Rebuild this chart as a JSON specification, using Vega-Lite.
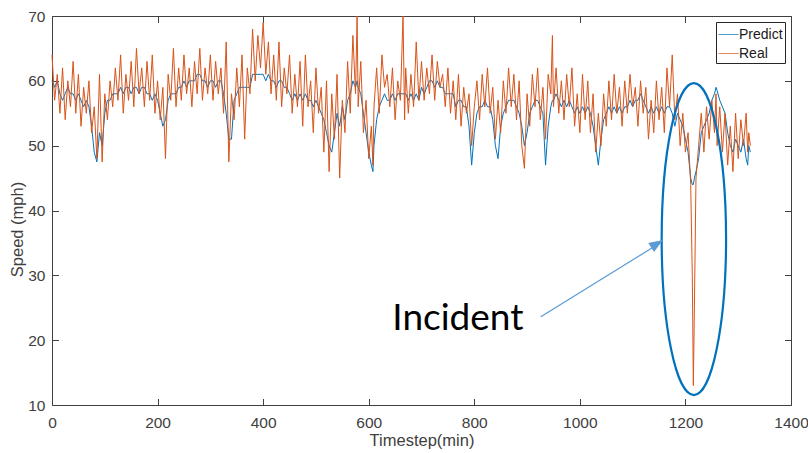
{
  "$schema": "https://vega.github.io/schema/vega-lite/v6.json",
  "width": 739,
  "height": 389,
  "autosize": {"type": "none"},
  "padding": {"left": 52, "top": 16, "right": 17, "bottom": 48},
  "background": "white",
  "config": {
    "view": {"stroke": null},
    "font": "Liberation Sans",
    "axis": {
      "domainColor": "#404040", "tickColor": "#404040", "labelColor": "#404040", "titleColor": "#404040",
      "labelFont": "Liberation Sans", "titleFont": "Liberation Sans",
      "labelFontSize": 15.5, "titleFontSize": 16.5, "titleFontWeight": "normal",
      "tickSize": -6.5, "grid": false, "domainWidth": 1, "tickWidth": 1, "format": "d"
    },
    "legend": {
      "orient": "top-right", "offset": 6, "title": null,
      "symbolType": "stroke", "symbolSize": 400, "symbolStrokeWidth": 1, "symbolOpacity": 0.7,
      "labelFont": "Liberation Sans", "labelFontSize": 14, "labelColor": "#1a1a1a", "labelOffset": 0,
      "strokeColor": "#262626", "fillColor": "white", "padding": 2, "rowPadding": 1, "cornerRadius": 0
    }
  },
  "layer": [
    {
      "data": {"values": [
        {"t":0,"Predict":60,"Real":64},{"t":5,"Predict":59,"Real":57},{"t":10,"Predict":60,"Real":61},{"t":15,"Predict":58,"Real":55},
        {"t":20,"Predict":57,"Real":62},{"t":25,"Predict":58,"Real":54},{"t":30,"Predict":59,"Real":60},{"t":35,"Predict":58,"Real":56},
        {"t":40,"Predict":58,"Real":63},{"t":45,"Predict":57,"Real":55},{"t":50,"Predict":58,"Real":61},{"t":55,"Predict":57,"Real":53},
        {"t":60,"Predict":56,"Real":59},{"t":65,"Predict":57,"Real":55},{"t":70,"Predict":56,"Real":60},{"t":75,"Predict":53,"Real":52},
        {"t":80,"Predict":49,"Real":56},{"t":85,"Predict":47.5,"Real":48},{"t":90,"Predict":52,"Real":61},{"t":95,"Predict":50,"Real":47.5},
        {"t":100,"Predict":55,"Real":58},{"t":105,"Predict":57,"Real":54},{"t":110,"Predict":57,"Real":60},{"t":115,"Predict":58,"Real":56},
        {"t":120,"Predict":58,"Real":62},{"t":125,"Predict":58,"Real":57},{"t":130,"Predict":59,"Real":64},{"t":135,"Predict":58,"Real":55},
        {"t":140,"Predict":59,"Real":61},{"t":145,"Predict":59,"Real":57},{"t":150,"Predict":58,"Real":63},{"t":155,"Predict":59,"Real":56},
        {"t":160,"Predict":59,"Real":65},{"t":165,"Predict":58,"Real":58},{"t":170,"Predict":59,"Real":62},{"t":175,"Predict":59,"Real":56},
        {"t":180,"Predict":58,"Real":63},{"t":185,"Predict":58,"Real":57},{"t":190,"Predict":57,"Real":64},{"t":195,"Predict":58,"Real":55},
        {"t":200,"Predict":57,"Real":60},{"t":205,"Predict":55,"Real":54},{"t":210,"Predict":53,"Real":59},{"t":215,"Predict":54,"Real":48},
        {"t":220,"Predict":57,"Real":61},{"t":225,"Predict":58,"Real":57},{"t":230,"Predict":58,"Real":65},{"t":235,"Predict":58,"Real":56},
        {"t":240,"Predict":59,"Real":62},{"t":245,"Predict":59,"Real":57},{"t":250,"Predict":60,"Real":64},{"t":255,"Predict":59,"Real":58},
        {"t":260,"Predict":60,"Real":62},{"t":265,"Predict":60,"Real":56},{"t":270,"Predict":60,"Real":63},{"t":275,"Predict":61,"Real":58},
        {"t":280,"Predict":61,"Real":65},{"t":285,"Predict":60,"Real":57},{"t":290,"Predict":60,"Real":62},{"t":295,"Predict":59,"Real":58},
        {"t":300,"Predict":60,"Real":64},{"t":305,"Predict":60,"Real":57},{"t":310,"Predict":59,"Real":63},{"t":315,"Predict":60,"Real":58},
        {"t":320,"Predict":60,"Real":62},{"t":325,"Predict":58,"Real":55},{"t":330,"Predict":55,"Real":66},{"t":335,"Predict":51,"Real":47.5},
        {"t":340,"Predict":51,"Real":58},{"t":345,"Predict":57,"Real":54},{"t":350,"Predict":58,"Real":62},{"t":355,"Predict":59,"Real":56},
        {"t":360,"Predict":59,"Real":64},{"t":365,"Predict":59,"Real":51},{"t":370,"Predict":59,"Real":62},{"t":375,"Predict":59,"Real":58},
        {"t":380,"Predict":61,"Real":68},{"t":385,"Predict":61,"Real":60},{"t":390,"Predict":61,"Real":67},{"t":395,"Predict":61,"Real":62},
        {"t":400,"Predict":61,"Real":69},{"t":405,"Predict":60,"Real":61},{"t":410,"Predict":61,"Real":66},{"t":415,"Predict":60,"Real":58},
        {"t":420,"Predict":60,"Real":64},{"t":425,"Predict":59,"Real":57},{"t":430,"Predict":60,"Real":66},{"t":435,"Predict":60,"Real":56},
        {"t":440,"Predict":59,"Real":62},{"t":445,"Predict":59,"Real":58},{"t":450,"Predict":58,"Real":64},{"t":455,"Predict":57,"Real":55},
        {"t":460,"Predict":58,"Real":61},{"t":465,"Predict":57,"Real":56},{"t":470,"Predict":58,"Real":63},{"t":475,"Predict":57,"Real":53},
        {"t":480,"Predict":58,"Real":64},{"t":485,"Predict":57,"Real":56},{"t":490,"Predict":57,"Real":60},{"t":495,"Predict":56,"Real":52},
        {"t":500,"Predict":57,"Real":62},{"t":505,"Predict":56,"Real":55},{"t":510,"Predict":55,"Real":59},{"t":515,"Predict":54,"Real":49},
        {"t":520,"Predict":52,"Real":60},{"t":525,"Predict":50,"Real":46},{"t":530,"Predict":49,"Real":58},{"t":535,"Predict":52,"Real":51},
        {"t":540,"Predict":55,"Real":61},{"t":545,"Predict":53,"Real":45},{"t":550,"Predict":56,"Real":57},{"t":555,"Predict":54,"Real":52},
        {"t":560,"Predict":57,"Real":63},{"t":565,"Predict":58,"Real":55},{"t":570,"Predict":60,"Real":67},{"t":575,"Predict":59,"Real":58},
        {"t":578,"Predict":60,"Real":70},{"t":580,"Predict":59,"Real":56},{"t":585,"Predict":58,"Real":63},{"t":590,"Predict":55,"Real":52},
        {"t":595,"Predict":52,"Real":57},{"t":600,"Predict":49,"Real":48},{"t":605,"Predict":47,"Real":53},{"t":608,"Predict":46,"Real":47},
        {"t":610,"Predict":50,"Real":56},{"t":615,"Predict":54,"Real":62},{"t":620,"Predict":56,"Real":55},{"t":625,"Predict":57,"Real":64},
        {"t":630,"Predict":58,"Real":59},{"t":635,"Predict":57,"Real":61},{"t":640,"Predict":57,"Real":56},{"t":645,"Predict":58,"Real":62},
        {"t":650,"Predict":57,"Real":54},{"t":655,"Predict":58,"Real":60},{"t":660,"Predict":58,"Real":57},{"t":665,"Predict":58,"Real":70},
        {"t":668,"Predict":58,"Real":54},{"t":670,"Predict":58,"Real":62},{"t":675,"Predict":57,"Real":55},{"t":680,"Predict":58,"Real":61},
        {"t":685,"Predict":57,"Real":56},{"t":690,"Predict":58,"Real":66},{"t":695,"Predict":57,"Real":57},{"t":700,"Predict":59,"Real":63},
        {"t":705,"Predict":58,"Real":57},{"t":710,"Predict":59,"Real":62},{"t":715,"Predict":60,"Real":58},{"t":720,"Predict":60,"Real":64},
        {"t":725,"Predict":59,"Real":57},{"t":730,"Predict":60,"Real":63},{"t":735,"Predict":59,"Real":59},{"t":740,"Predict":59,"Real":61},
        {"t":745,"Predict":58,"Real":56},{"t":750,"Predict":58,"Real":62},{"t":755,"Predict":58,"Real":55},{"t":760,"Predict":58,"Real":60},
        {"t":765,"Predict":56,"Real":54},{"t":770,"Predict":57,"Real":61},{"t":775,"Predict":57,"Real":53},{"t":780,"Predict":56,"Real":59},
        {"t":785,"Predict":56,"Real":55},{"t":790,"Predict":53,"Real":58},{"t":795,"Predict":47,"Real":50},{"t":800,"Predict":52,"Real":56},
        {"t":805,"Predict":55,"Real":60},{"t":810,"Predict":56,"Real":54},{"t":815,"Predict":56,"Real":61},{"t":820,"Predict":57,"Real":56},
        {"t":825,"Predict":56,"Real":62},{"t":830,"Predict":56,"Real":55},{"t":835,"Predict":54,"Real":59},{"t":840,"Predict":50,"Real":51},
        {"t":845,"Predict":48,"Real":57},{"t":850,"Predict":53,"Real":52},{"t":855,"Predict":55,"Real":60},{"t":860,"Predict":56,"Real":55},
        {"t":865,"Predict":57,"Real":62},{"t":870,"Predict":57,"Real":56},{"t":875,"Predict":57,"Real":61},{"t":880,"Predict":56,"Real":54},
        {"t":885,"Predict":55,"Real":60},{"t":890,"Predict":53,"Real":50},{"t":895,"Predict":50,"Real":46.5},{"t":900,"Predict":52,"Real":58},
        {"t":905,"Predict":55,"Real":53},{"t":910,"Predict":56,"Real":61},{"t":915,"Predict":57,"Real":56},{"t":920,"Predict":57,"Real":62},
        {"t":925,"Predict":56,"Real":54},{"t":930,"Predict":55,"Real":59},{"t":935,"Predict":47,"Real":51},{"t":940,"Predict":53,"Real":61},
        {"t":945,"Predict":56,"Real":58},{"t":948,"Predict":57,"Real":67},{"t":950,"Predict":57,"Real":56},{"t":955,"Predict":58,"Real":62},
        {"t":960,"Predict":57,"Real":55},{"t":965,"Predict":56,"Real":60},{"t":970,"Predict":57,"Real":54},{"t":975,"Predict":56,"Real":61},
        {"t":980,"Predict":57,"Real":56},{"t":985,"Predict":56,"Real":62},{"t":990,"Predict":55,"Real":53},{"t":995,"Predict":56,"Real":58},
        {"t":1000,"Predict":55,"Real":52},{"t":1005,"Predict":56,"Real":61},{"t":1010,"Predict":55,"Real":54},{"t":1015,"Predict":56,"Real":60},
        {"t":1020,"Predict":55,"Real":52},{"t":1025,"Predict":53,"Real":58},{"t":1030,"Predict":50,"Real":49},{"t":1035,"Predict":47,"Real":55},
        {"t":1040,"Predict":51,"Real":50},{"t":1045,"Predict":54,"Real":58},{"t":1050,"Predict":55,"Real":53},{"t":1055,"Predict":56,"Real":60},
        {"t":1060,"Predict":55,"Real":54},{"t":1065,"Predict":56,"Real":61},{"t":1070,"Predict":55,"Real":55},{"t":1075,"Predict":56,"Real":59},
        {"t":1080,"Predict":55,"Real":53},{"t":1085,"Predict":56,"Real":60},{"t":1090,"Predict":56,"Real":55},{"t":1095,"Predict":57,"Real":61},
        {"t":1100,"Predict":56,"Real":56},{"t":1105,"Predict":57,"Real":59},{"t":1110,"Predict":57,"Real":53},{"t":1115,"Predict":58,"Real":60},
        {"t":1120,"Predict":57,"Real":55},{"t":1125,"Predict":56,"Real":59},{"t":1130,"Predict":55,"Real":51},{"t":1135,"Predict":56,"Real":57},
        {"t":1140,"Predict":55,"Real":52},{"t":1145,"Predict":56,"Real":60},{"t":1150,"Predict":55,"Real":54},{"t":1155,"Predict":56,"Real":59},
        {"t":1160,"Predict":55,"Real":52},{"t":1165,"Predict":56,"Real":62},{"t":1170,"Predict":56,"Real":56},{"t":1175,"Predict":55,"Real":64},
        {"t":1180,"Predict":53,"Real":54},{"t":1185,"Predict":55,"Real":58},{"t":1190,"Predict":54,"Real":50},{"t":1195,"Predict":53,"Real":55},
        {"t":1200,"Predict":51,"Real":49},{"t":1205,"Predict":49,"Real":52},{"t":1210,"Predict":45,"Real":44},{"t":1213,"Predict":44,"Real":30},
        {"t":1215,"Predict":44,"Real":13},{"t":1217,"Predict":45,"Real":25},{"t":1220,"Predict":46,"Real":45},{"t":1225,"Predict":48,"Real":50},
        {"t":1230,"Predict":52,"Real":55},{"t":1235,"Predict":53,"Real":49},{"t":1240,"Predict":54,"Real":56},{"t":1245,"Predict":55,"Real":51},
        {"t":1250,"Predict":57,"Real":57},{"t":1255,"Predict":58,"Real":52},{"t":1258,"Predict":59,"Real":58},{"t":1260,"Predict":58.5,"Real":50},
        {"t":1265,"Predict":57,"Real":56},{"t":1270,"Predict":56,"Real":49},{"t":1275,"Predict":55,"Real":55},{"t":1280,"Predict":52,"Real":47},
        {"t":1285,"Predict":50,"Real":53},{"t":1290,"Predict":49,"Real":46},{"t":1295,"Predict":51,"Real":55},{"t":1300,"Predict":50,"Real":48},
        {"t":1305,"Predict":49,"Real":54},{"t":1310,"Predict":51,"Real":50},{"t":1315,"Predict":48,"Real":55},{"t":1318,"Predict":47,"Real":49},
        {"t":1320,"Predict":50,"Real":52},{"t":1323,"Predict":49,"Real":50}
      ]},
      "transform": [{"fold": ["Predict", "Real"], "as": ["series", "speed"]}],
      "mark": {"type": "line", "strokeWidth": 1},
      "encoding": {
        "x": {"field": "t", "type": "quantitative",
              "scale": {"domain": [0, 1400], "nice": false, "zero": false},
              "axis": {"orient": "bottom", "values": [0,200,400,600,800,1000,1200,1400], "labelFlush": false, "labelOverlap": false,
                       "labelPadding": 16.5, "title": "Timestep(min)", "titleBaseline": "alphabetic", "titleY": 40}},
        "y": {"field": "speed", "type": "quantitative",
              "scale": {"domain": [10, 70], "nice": false, "zero": false},
              "axis": {"orient": "left", "values": [10,20,30,40,50,60,70], "labelFlush": false, "labelOverlap": false,
                       "labelPadding": 13.5, "title": "Speed (mph)", "titleBaseline": "alphabetic", "titleX": -30, "titleY": 213, "titleAngle": 270}},
        "color": {"field": "series", "type": "nominal",
                  "scale": {"domain": ["Predict", "Real"], "range": ["#0072BD", "#D95319"]},
                  "legend": {"title": null}}
      }
    },
    {
      "data": {"values": [{"t": 1216, "v": 35.6}]},
      "mark": {"type": "point",
               "shape": "M0,-1C0.114,-1 0.2064,-0.5523 0.2064,0C0.2064,0.5523 0.114,1 0,1C-0.114,1 -0.2064,0.5523 -0.2064,0C-0.2064,-0.5523 -0.114,-1 0,-1Z",
               "size": 97344, "filled": false, "stroke": "#0072BD", "strokeWidth": 2.2, "opacity": 1},
      "encoding": {
        "x": {"field": "t", "type": "quantitative", "scale": {"domain": [0, 1400], "nice": false, "zero": false},
              "axis": {"orient": "top", "values": [0,200,400,600,800,1000,1200,1400], "labels": false, "title": null}},
        "y": {"field": "v", "type": "quantitative", "scale": {"domain": [10, 70], "nice": false, "zero": false},
              "axis": {"orient": "right", "values": [10,20,30,40,50,60,70], "labels": false, "title": null}}
      }
    },
    {
      "data": {"values": [{"t": 926, "v": 23.6, "t2": 1152, "v2": 35.0}]},
      "mark": {"type": "rule", "stroke": "#5B9BD5", "strokeWidth": 1.2},
      "encoding": {
        "x": {"field": "t", "type": "quantitative", "scale": {"domain": [0, 1400], "nice": false, "zero": false}, "axis": null},
        "y": {"field": "v", "type": "quantitative", "scale": {"domain": [10, 70], "nice": false, "zero": false}, "axis": null},
        "x2": {"field": "t2"},
        "y2": {"field": "v2"}
      }
    },
    {
      "data": {"values": [{"t": 1157.5, "v": 35.45}]},
      "mark": {"type": "point", "shape": "M0,0L-1,-0.38L-1,0.38Z", "size": 784, "filled": true,
               "fill": "#5B9BD5", "strokeWidth": 0, "angle": -32.3, "opacity": 1},
      "encoding": {
        "x": {"field": "t", "type": "quantitative", "scale": {"domain": [0, 1400], "nice": false, "zero": false}, "axis": null},
        "y": {"field": "v", "type": "quantitative", "scale": {"domain": [10, 70], "nice": false, "zero": false}, "axis": null}
      }
    },
    {
      "data": {"values": [{"t": 769, "v": 21.57, "label": "Incident"}]},
      "mark": {"type": "text", "font": "Lato", "fontSize": 37, "color": "#000000", "align": "center", "baseline": "alphabetic"},
      "encoding": {
        "x": {"field": "t", "type": "quantitative", "scale": {"domain": [0, 1400], "nice": false, "zero": false}, "axis": null},
        "y": {"field": "v", "type": "quantitative", "scale": {"domain": [10, 70], "nice": false, "zero": false}, "axis": null},
        "text": {"field": "label"}
      }
    }
  ],
  "resolve": {"axis": {"x": "independent", "y": "independent"}}
}
